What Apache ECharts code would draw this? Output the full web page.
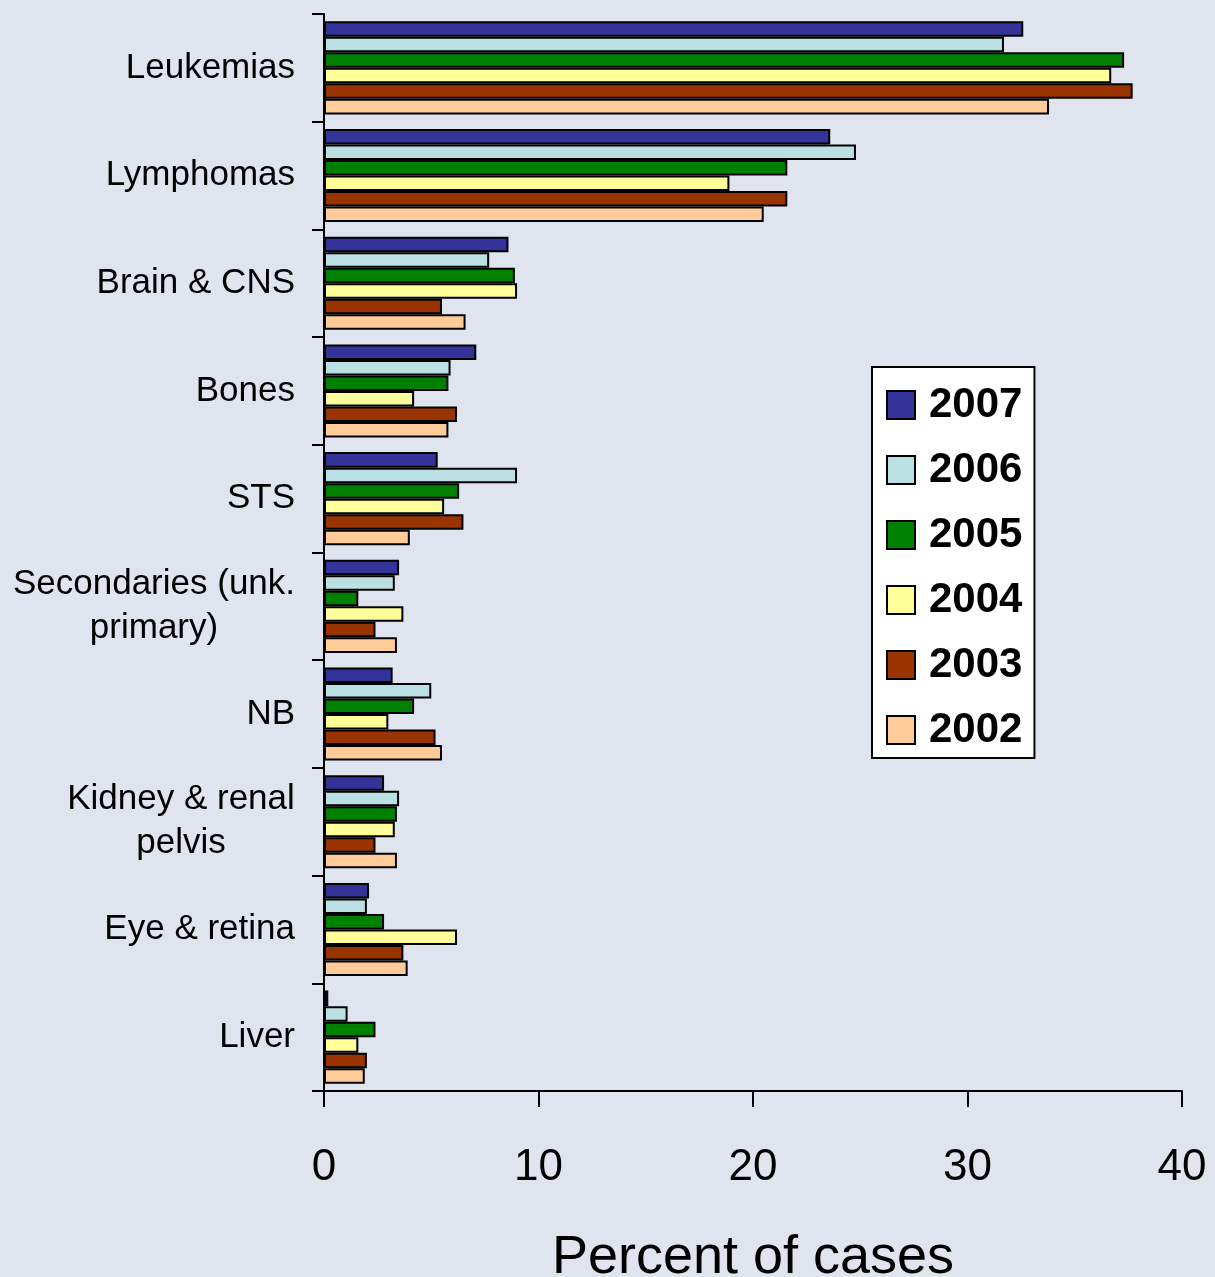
<!DOCTYPE html>
<html>
<head>
<meta charset="utf-8">
<script src="https://cdn.jsdelivr.net/npm/echarts@6/dist/echarts.min.js"></script>
<style>
  html, body { margin: 0; padding: 0; background: #dfe4ee; }
  #chart { width: 1215px; height: 1277px; }
</style>
</head>
<body>
<div id="chart"></div>
<script>
// categories, top to bottom
var categories = ['Leukemias', 'Lymphomas', 'Brain & CNS', 'Bones', 'STS',
    'Secondaries (unk.\nprimary)', 'NB', 'Kidney & renal\npelvis', 'Eye & retina', 'Liver'];

var years = ['2007', '2006', '2005', '2004', '2003', '2002'];

// percent of cases per year, same order as categories
var y2007 = [32.6, 23.6, 8.6, 7.1, 5.3, 3.5, 3.2, 2.8, 2.1, 0.2];
var y2006 = [31.7, 24.8, 7.7, 5.9, 9.0, 3.3, 5.0, 3.5, 2.0, 1.1];
var y2005 = [37.3, 21.6, 8.9, 5.8, 6.3, 1.6, 4.2, 3.4, 2.8, 2.4];
var y2004 = [36.7, 18.9, 9.0, 4.2, 5.6, 3.7, 3.0, 3.3, 6.2, 1.6];
var y2003 = [37.7, 21.6, 5.5, 6.2, 6.5, 2.4, 5.2, 2.4, 3.7, 2.0];
var y2002 = [33.8, 20.5, 6.6, 5.8, 4.0, 3.4, 5.5, 3.4, 3.9, 1.9];

var xTicks = [0, 10, 20, 30, 40];

var colors = {
    '2007': '#333399',
    '2006': '#bbe0e3',
    '2005': '#008000',
    '2004': '#ffff99',
    '2003': '#993300',
    '2002': '#ffcc99'
};

var values = [y2007, y2006, y2005, y2004, y2003, y2002];
var font = '"Liberation Sans", Arial, sans-serif';

var chart = echarts.init(document.getElementById('chart'));

var series = years.map(function (yr, i) {
    return {
        name: yr,
        type: 'bar',
        data: values[i],
        barGap: 0,
        barCategoryGap: '13.6%',
        itemStyle: {
            color: colors[yr],
            borderColor: '#000',
            borderWidth: 2
        },
        emphasis: { disabled: true }
    };
});

var option = {
    backgroundColor: '#dfe4ee',
    animation: false,
    grid: {
        left: 324,
        right: 33,
        top: 14,
        bottom: 186,
        outerBoundsMode: 'none' // keep the grid where it is, name may go to the edge
    },
    legend: {
        orient: 'vertical',
        left: 872,
        top: 367,
        data: years,
        icon: 'rect',
        itemWidth: 28,
        itemHeight: 28,
        itemGap: 21,
        padding: [16, 12, 6, 14],
        backgroundColor: '#ffffff',
        borderColor: '#000',
        borderWidth: 2,
        textStyle: {
            fontFamily: font,
            fontSize: 42,
            fontWeight: 'bold',
            color: '#000',
            lineHeight: 44,
            padding: [0, 0, 0, 9]
        }
    },
    xAxis: {
        type: 'value',
        min: 0,
        max: 40,
        interval: 10,
        name: 'Percent of cases',
        nameLocation: 'middle',
        nameGap: 140,
        nameTextStyle: {
            fontFamily: font,
            fontSize: 54,
            color: '#000',
            verticalAlign: 'top'
        },
        axisLine: { show: true, lineStyle: { color: '#000', width: 2 } },
        axisTick: { show: true, length: 16, lineStyle: { color: '#000', width: 2 } },
        splitLine: { show: false },
        axisLabel: {
            margin: 55,
            fontFamily: font,
            fontSize: 44,
            color: '#000',
            formatter: function (v) {
                return xTicks.indexOf(v) >= 0 ? String(v) : '';
            }
        }
    },
    yAxis: {
        type: 'category',
        data: categories,
        inverse: true,
        axisLine: { show: true, lineStyle: { color: '#000', width: 2 } },
        axisTick: { show: true, length: 12, lineStyle: { color: '#000', width: 2 } },
        axisLabel: {
            margin: 29,
            fontFamily: font,
            fontSize: 35,
            color: '#000',
            lineHeight: 44,
            interval: 0,
            formatter: function (v) {
                if (v.indexOf('Secondaries') === 0) {
                    return v.split('\n').map(function (s) { return '{a|' + s + '}'; }).join('\n');
                }
                if (v.indexOf('Kidney') === 0) {
                    return v.split('\n').map(function (s) { return '{b|' + s + '}'; }).join('\n');
                }
                return v;
            },
            rich: {
                a: { width: 282, align: 'center', fontFamily: font, fontSize: 35, lineHeight: 44, color: '#000' },
                b: { width: 228, align: 'center', fontFamily: font, fontSize: 35, lineHeight: 44, color: '#000' }
            }
        }
    },
    series: series
};

chart.setOption(option);
</script>
</body>
</html>
